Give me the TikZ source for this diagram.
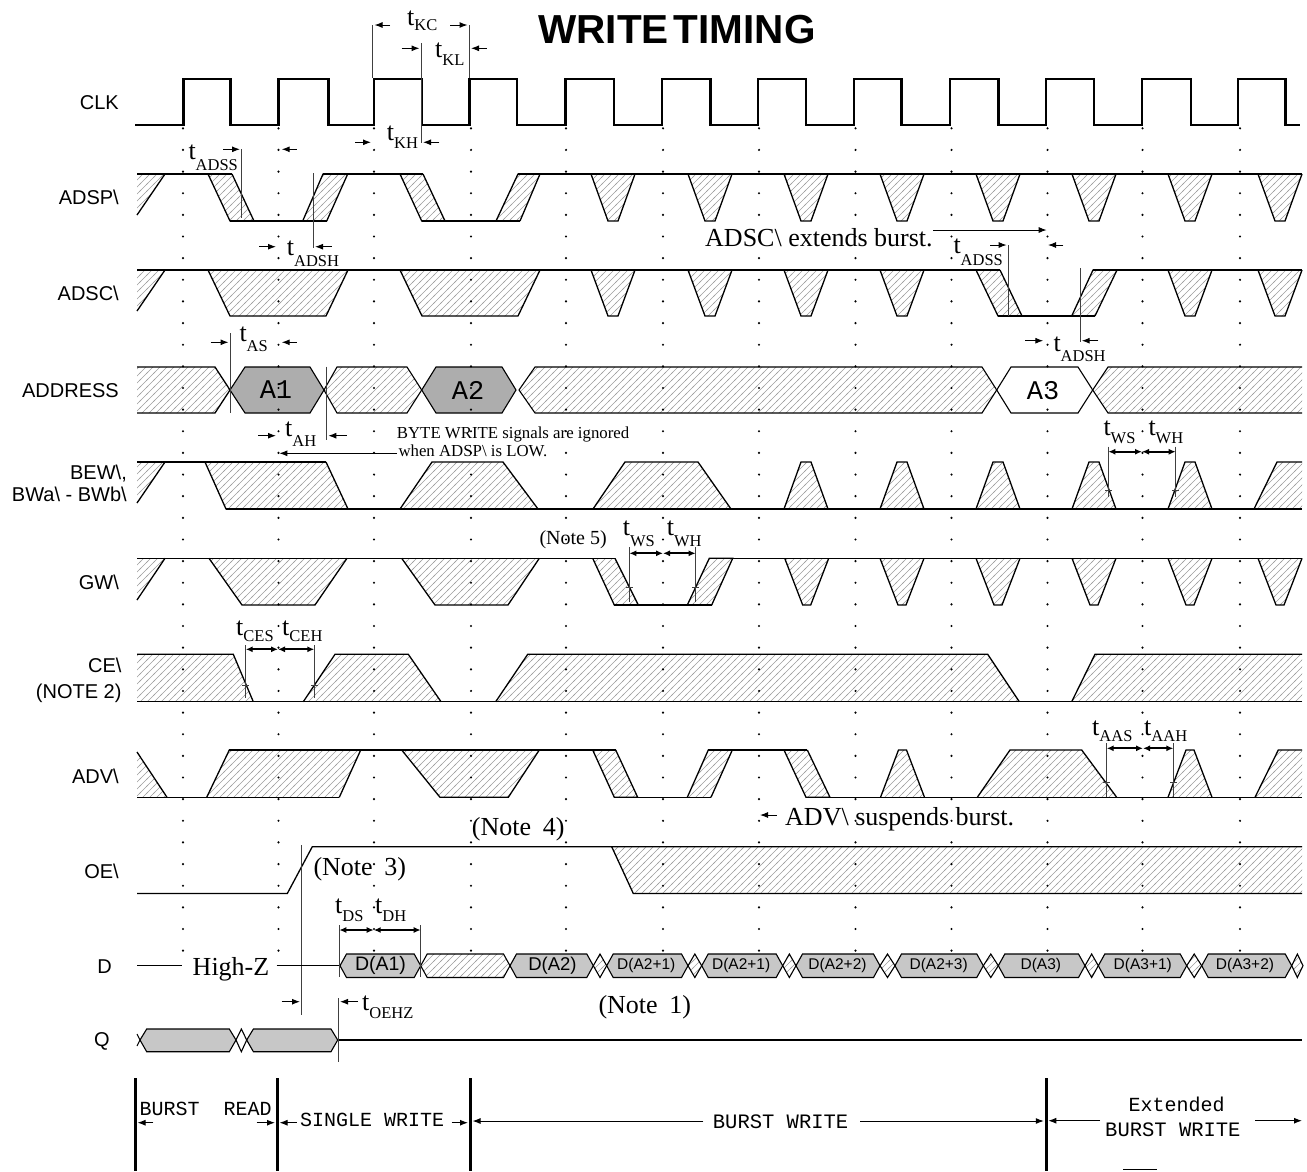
\documentclass[tikz,border=0pt]{standalone}
\usepackage{fontspec}
\setmainfont{Liberation Serif}
\setsansfont{Liberation Sans}
\setmonofont{Liberation Mono}
\usetikzlibrary{patterns,arrows.meta}
\pgfdeclarepatternformonly{hatchp}{\pgfqpoint{-1pt}{-1pt}}{\pgfqpoint{8pt}{8pt}}{\pgfqpoint{7pt}{7pt}}{%
  \pgfsetlinewidth{0.6pt}%
  \pgfpathmoveto{\pgfqpoint{-1pt}{-1pt}}%
  \pgfpathlineto{\pgfqpoint{8pt}{8pt}}%
  \pgfusepath{stroke}}
\newcommand{\tsub}[2][8]{{\fontsize{26}{26}\selectfont t}\raisebox{-#1pt}{\fontsize{16.5}{16.5}\selectfont #2}}
\tikzset{
  sig/.style={line width=1.3pt,line join=miter},
  clk/.style={line width=2.8pt,line join=miter},
  hatch/.style={pattern=hatchp,pattern color=black!38},
  mk/.style={line width=0.9pt,black!75},
  arr/.style={line width=1pt,-{Latex[length=8pt,width=6pt]}},
  darr/.style={line width=1.8pt,{Latex[length=7pt,width=6pt]}-{Latex[length=7pt,width=6pt]}},
  lab/.style={font=\sffamily\fontsize{20}{20}\selectfont,anchor=base east,inner sep=0pt},
  tl/.style={anchor=base west,inner sep=0pt},
  note/.style={font=\fontsize{26}{26}\selectfont,anchor=base west,inner sep=0pt},
  bus/.style={sig,line width=1.1pt,fill=black!32},
  dbus/.style={sig,line width=1.1pt,fill=black!22},
  mono/.style={font=\ttfamily\fontsize{20}{20}\selectfont,anchor=base west,inner sep=0pt},
  thick3/.style={line width=3pt},
}
\begin{document}
\begin{tikzpicture}[x=1pt,y=-1pt]
\useasboundingbox (0,0) rectangle (1307,1171);

% Title
\node[font=\sffamily\bfseries\fontsize{40.5}{40.5}\selectfont,inner sep=0pt] (title) at (677,30) {WRITE\hspace{0.12em}TIMING};

% Signal labels
\node[lab] (lclk) at (119,109.2) {CLK};
\node[lab] (ladsp) at (119,204.7) {ADSP\textbackslash};
\node[lab] (ladsc) at (119,300.2) {ADSC\textbackslash};
\node[lab] (laddr) at (119,397.2) {ADDRESS};
\node[lab] (lbew) at (127,479.2) {BEW\textbackslash,};
\node[lab] (lbwa) at (127,501.2) {BWa\textbackslash{} - BWb\textbackslash};
\node[lab] (lgw) at (119,589.7) {GW\textbackslash};
\node[lab] (lce) at (121.7,672.2) {CE\textbackslash};
\node[lab] (lnote2) at (121.7,698) {(NOTE 2)};
\node[lab] (ladv) at (119,783.2) {ADV\textbackslash};
\node[lab] (loe) at (119,878) {OE\textbackslash};
\node[lab] (ld) at (112,973) {D};
\node[lab] (lq) at (110,1046.5) {Q};

% CLK
\draw[clk] (135,125) -- (183.3,125) |- (230.7,79) |- (278.3,125) |- (328.3,79) |- (374,125) |- (422,79) |- (469.3,125) |- (517,79) |- (565.7,125) |- (614,79) |- (662,125) |- (710.7,79) |- (758,125) |- (806,79) |- (854,125) |- (901.7,79) |- (950,125) |- (998.7,79) |- (1046,125) |- (1094,79) |- (1142,125) |- (1191,79) |- (1238,125) |- (1285.7,79) |- (1300,125);

% ADSP
\fill[hatch] (137,174) -- (165,174) -- (137,215) -- cycle;
\draw[sig] (165,174) -- (137,215);
\draw[sig,hatch] (208,174) -- (230,221) -- (254,221) -- (232,174);
\draw[sig,hatch] (302.7,221) -- (323,174) -- (347.7,174) -- (326.7,221);
\draw[sig,hatch] (400,174) -- (421.7,221) -- (445,221) -- (423,174);
\draw[sig,hatch] (496,221) -- (518,174) -- (540,174) -- (520,221);
\foreach \c in {613,710,806,902,998,1094,1190,1280} {\draw[sig,hatch] (\c-22,174) -- (\c-5,221) -- (\c+5,221) -- (\c+22,174);}
\draw[sig] (137,174) -- (232,174);
\draw[sig] (230,221) -- (326.7,221);
\draw[sig] (323,174) -- (423,174);
\draw[sig] (421.7,221) -- (520,221);
\draw[sig] (518,174) -- (1302,174);

% ADSC
\fill[hatch] (137,270) -- (165,270) -- (137,311) -- cycle;
\draw[sig] (165,270) -- (137,311);
\draw[sig,hatch] (208,270) -- (230,316) -- (326,316) -- (348,270);
\draw[sig,hatch] (400,270) -- (422,316) -- (518,316) -- (540,270);
\foreach \c in {613,710,806,902,1190,1280} {\draw[sig,hatch] (\c-22,270) -- (\c-5,316) -- (\c+5,316) -- (\c+22,270);}
\draw[sig,hatch] (976,270) -- (998,316) -- (1022,316) -- (1000,270);
\draw[sig,hatch] (1071.7,316) -- (1093,270) -- (1117,270) -- (1095,316);
\draw[sig] (137,270) -- (1000,270);
\draw[sig] (998,316) -- (1095,316);
\draw[sig] (1093,270) -- (1302,270);

% ADDRESS
\draw[sig,hatch] (137,367) -- (215,367) -- (230,390) -- (215,413) -- (137,413);
\filldraw[bus] (230,390) -- (245,367) -- (310,367) -- (324,390) -- (310,413) -- (245,413) -- cycle;
\draw[sig,line width=1.1pt,hatch] (324,390) -- (337,367) -- (407,367) -- (421.7,390) -- (407,413) -- (337,413) -- cycle;
\filldraw[bus] (421.7,390) -- (436,367) -- (502,367) -- (516,390) -- (502,413) -- (436,413) -- cycle;
\draw[sig,line width=1.1pt,hatch] (519,390) -- (535,367) -- (982,367) -- (996.7,390) -- (982,413) -- (535,413) -- cycle;
\draw[sig,line width=1.1pt] (996.7,390) -- (1011,367) -- (1078,367) -- (1092.7,390) -- (1078,413) -- (1011,413) -- cycle;
\draw[sig,line width=1.1pt,hatch] (1302,367) -- (1108,367) -- (1092.7,390) -- (1108,413) -- (1302,413);
\node[font=\ttfamily\fontsize{27}{27}\selectfont,inner sep=0pt] (a1) at (276,390) {A1};
\node[font=\ttfamily\fontsize{27}{27}\selectfont,inner sep=0pt] (a2) at (468,390) {A2};
\node[font=\ttfamily\fontsize{27}{27}\selectfont,inner sep=0pt] (a3) at (1043,391) {A3};

% BEW
\fill[hatch] (137,462) -- (165,462) -- (137,503) -- cycle;
\draw[sig] (165,462) -- (137,503);
\draw[sig,hatch] (205,462) -- (226,509) -- (348,509) -- (326,462);
\draw[sig,hatch] (400,509) -- (432,462) -- (503,462) -- (538,509);
\draw[sig,hatch] (593,509) -- (625,462) -- (698,462) -- (731,509);
\foreach \c in {806,902,998,1094,1190} {\draw[sig,hatch] (\c-22,509) -- (\c-5,462) -- (\c+5,462) -- (\c+22,509);}
\fill[hatch] (1254,509) -- (1277,462) -- (1302,462) -- (1302,509) -- cycle;
\draw[sig] (1254,509) -- (1277,462) -- (1302,462);
\draw[sig] (137,462) -- (326,462);
\draw[sig] (226,509) -- (1302,509);

% GW
\fill[hatch] (137,558.3) -- (165,558.3) -- (137,600) -- cycle;
\draw[sig] (165,558.3) -- (137,600);
\draw[sig,hatch] (209,558.3) -- (242,605) -- (315,605) -- (347,558.3);
\draw[sig,hatch] (401.7,558.3) -- (435,605) -- (508,605) -- (539.3,558.3);
\draw[sig,hatch] (592.7,558.3) -- (614.3,605) -- (638.3,605) -- (615,558.3);
\draw[sig,hatch] (687.3,605) -- (709.3,558.3) -- (732.7,558.3) -- (711.7,605);
\foreach \c in {806.7,902,998,1094,1190,1280} {\draw[sig,hatch] (\c-22,558.3) -- (\c-4,605) -- (\c+4,605) -- (\c+22,558.3);}
\draw[sig] (137,558.3) -- (615,558.3);
\draw[sig] (614.3,605) -- (711.7,605);
\draw[sig] (709.3,558.3) -- (1302,558.3);

% CE
\fill[hatch] (137,654.3) -- (233.3,654.3) -- (253.3,701.7) -- (137,701.7) -- cycle;
\fill[hatch] (303.3,701.7) -- (335,654.3) -- (408.3,654.3) -- (441,701.7) -- cycle;
\fill[hatch] (495.7,701.7) -- (527.7,654.3) -- (987.7,654.3) -- (1019.3,701.7) -- cycle;
\fill[hatch] (1071.7,701.7) -- (1095,654.3) -- (1302,654.3) -- (1302,701.7) -- cycle;
\draw[sig] (137,654.3) -- (233.3,654.3) -- (253.3,701.7);
\draw[sig] (303.3,701.7) -- (335,654.3) -- (408.3,654.3) -- (441,701.7);
\draw[sig] (495.7,701.7) -- (527.7,654.3) -- (987.7,654.3) -- (1019.3,701.7);
\draw[sig] (1071.7,701.7) -- (1095,654.3) -- (1302,654.3);
\draw[sig] (137,701.7) -- (1302,701.7);

% ADV
\fill[hatch] (137,752) -- (167,797.3) -- (137,797.3) -- cycle;
\draw[sig] (137,752) -- (167,797.3);
\draw[sig,hatch] (206.7,797.3) -- (229.3,750) -- (360.7,750) -- (339.3,797.3);
\draw[sig,hatch] (401.7,750) -- (440,797.3) -- (508.3,797.3) -- (539.3,750);
\draw[sig,hatch] (592.7,750) -- (614.3,797.3) -- (637.7,797.3) -- (615.7,750);
\draw[sig,hatch] (687.3,797.3) -- (708.3,750) -- (732.3,750) -- (711,797.3);
\draw[sig,hatch] (784,750) -- (806,797.3) -- (830,797.3) -- (807.3,750);
\foreach \c in {902.5,1190} {\draw[sig,hatch] (\c-22,797.3) -- (\c-4,750) -- (\c+4,750) -- (\c+22,797.3);}
\draw[sig,hatch] (977.3,797.3) -- (1010,750) -- (1081.7,750) -- (1116.7,797.3);
\fill[hatch] (1255,797.3) -- (1278.3,750) -- (1302,750) -- (1302,797.3) -- cycle;
\draw[sig] (1255,797.3) -- (1278.3,750) -- (1302,750);
\draw[sig] (137,797.3) -- (339.3,797.3);
\draw[sig] (229.3,750) -- (615.7,750);
\draw[sig] (614.3,797.3) -- (711,797.3);
\draw[sig] (708.3,750) -- (807.3,750);
\draw[sig] (806,797.3) -- (1302,797.3);

% OE
\fill[hatch] (611.7,846.7) -- (1302,846.7) -- (1302,893.5) -- (633.3,893.5) -- cycle;
\draw[sig] (137,893.5) -- (287.3,893.5) -- (312.3,846.7) -- (1302,846.7);
\draw[sig] (611.7,846.7) -- (633.3,893.5) -- (1302,893.5);
\draw[mk] (301.7,845) -- (301.7,1015);

% D
\draw[sig,line width=1pt] (137,965.7) -- (181.7,965.7);
\node[font=\fontsize{26}{26}\selectfont,anchor=base,inner sep=0pt] (hiz) at (231,975) {High-Z};
\draw[sig,line width=1pt] (276.7,965.7) -- (340,965.7);
\foreach \a/\b in {340/420.7,510/593.3,606.7/688,701.7/782.7,796/880,895/983.3,998.3/1085,1098.3/1186.7,1201.7/1291.7}
  {\filldraw[dbus] (\a,965.7) -- (\a+6.5,954) -- (\b-6.5,954) -- (\b,965.7) -- (\b-6.5,977.5) -- (\a+6.5,977.5) -- cycle;}
\draw[sig,line width=1.1pt,hatch] (420.7,965.7) -- (427.2,954) -- (503.5,954) -- (510,965.7) -- (503.5,977.5) -- (427.2,977.5) -- cycle;
\foreach \a/\b in {593.3/606.7,688/701.7,782.7/796,880/895,983.3/998.3,1085/1098.3,1186.7/1201.7,1291.7/1303}
  {\draw[sig,line width=1.1pt,hatch] (\a,965.7) -- ({(\a+\b)/2},954) -- (\b,965.7) -- ({(\a+\b)/2},977.5) -- cycle;}
\node[font=\sffamily\fontsize{19.5}{19.5}\selectfont,inner sep=0pt] (da1) at (380.5,965.7) {D(A1)};
\node[font=\sffamily\fontsize{18.5}{18.5}\selectfont,inner sep=0pt] (da2) at (552.5,965.7) {D(A2)};
\node[font=\sffamily\fontsize{15.5}{15.5}\selectfont,inner sep=0pt] (da21) at (646.3,965.7) {D(A2+1)};
\node[font=\sffamily\fontsize{15.5}{15.5}\selectfont,inner sep=0pt] (da21b) at (741.2,965.7) {D(A2+1)};
\node[font=\sffamily\fontsize{15.5}{15.5}\selectfont,inner sep=0pt] (da22) at (837.5,965.7) {D(A2+2)};
\node[font=\sffamily\fontsize{15.5}{15.5}\selectfont,inner sep=0pt] (da23) at (938.7,965.7) {D(A2+3)};
\node[font=\sffamily\fontsize{15.5}{15.5}\selectfont,inner sep=0pt] (da3) at (1040.8,965.7) {D(A3)};
\node[font=\sffamily\fontsize{15.5}{15.5}\selectfont,inner sep=0pt] (da31) at (1142.8,965.7) {D(A3+1)};
\node[font=\sffamily\fontsize{15.5}{15.5}\selectfont,inner sep=0pt] (da32) at (1245,965.7) {D(A3+2)};

% Q
\draw[sig,line width=1pt] (137,1034) -- (140,1040) -- (137,1046);
\foreach \a/\b in {140/236,246.7/337.7}
  {\filldraw[dbus] (\a,1040) -- (\a+6.7,1029) -- (\b-6.7,1029) -- (\b,1040) -- (\b-6.7,1051.7) -- (\a+6.7,1051.7) -- cycle;}
\draw[sig,line width=1.1pt] (236,1040) -- (241.35,1029) -- (246.7,1040) -- (241.35,1051.7) -- cycle;
\draw[sig,line width=1.1pt] (337.7,1040) -- (1302,1040);
\draw[mk] (338.3,998.3) -- (338.3,1061.7);

% ---------- timing annotations ----------
% tKC, tKL, tKH
\draw[mk] (372.7,25) -- (372.7,78);
\draw[mk] (469.3,25) -- (469.3,78);
\draw[mk] (421,43) -- (421,143);
\draw[arr] (390,25) -- (374.5,25);
\draw[arr] (450,25) -- (467.5,25);
\node[tl] (tkc) at (407,25) {\tsub[5]{KC}};
\draw[arr] (401.7,48.3) -- (419.5,48.3);
\draw[arr] (486.7,48.3) -- (471,48.3);
\node[tl] (tkl) at (435,57) {\tsub[8]{KL}};
\draw[arr] (355,142.3) -- (371,142.3);
\draw[arr] (439.3,142.3) -- (423,142.3);
\node[tl] (tkh) at (386.7,140) {\tsub[8]{KH}};

% tADSS / tADSH (ADSP)
\draw[mk] (241.7,149) -- (241.7,218.3);
\draw[arr] (223.3,149.3) -- (240,149.3);
\draw[arr] (296.7,149.3) -- (281.7,149.3);
\node[tl] (tadss) at (188.3,159) {\tsub[11]{ADSS}};
\draw[mk] (313.3,173) -- (313.3,248.3);
\draw[arr] (259.3,246.7) -- (276,246.7);
\draw[arr] (331.7,246.7) -- (315,246.7);
\node[tl] (tadsh) at (286.7,255) {\tsub[11.5]{ADSH}};

% ADSC extends burst
\node[note] (adscext) at (705,246.7) {ADSC\textbackslash{} extends burst.};
\draw[arr] (933,230) -- (1046.7,230);
\draw[mk] (1008.3,245) -- (1008.3,316);
\draw[arr] (990,245) -- (1006.7,245);
\draw[arr] (1063.3,245) -- (1048,245);
\node[tl] (tadss2) at (953.3,253) {\tsub[12]{ADSS}};
\draw[mk] (1080,268) -- (1080,342);
\draw[arr] (1025,340.7) -- (1043.3,340.7);
\draw[arr] (1098.3,340.7) -- (1081.7,340.7);
\node[tl] (tadsh2) at (1053.3,351.7) {\tsub[10]{ADSH}};

% tAS / tAH
\draw[mk] (230,333.3) -- (230,413.3);
\draw[arr] (210.7,342.3) -- (228.5,342.3);
\draw[arr] (296.7,342.3) -- (281.7,342.3);
\node[tl] (tas) at (239.3,341.7) {\tsub[10]{AS}};
\draw[mk] (326.7,366.7) -- (326.7,440);
\draw[arr] (258.3,435.7) -- (276,435.7);
\draw[arr] (346.7,435.7) -- (328.3,435.7);
\node[tl] (tah) at (285,436.7) {\tsub[10]{AH}};

% BYTE WRITE note
\node[tl,font=\fontsize{16.8}{16.8}\selectfont] (bw1) at (396.7,438.3) {BYTE WRITE signals are ignored};
\node[tl,font=\fontsize{16.8}{16.8}\selectfont] (bw2) at (398.3,456.7) {when ADSP\textbackslash{} is LOW.};
\draw[arr] (397,453.3) -- (279.3,453.3);

% tWS / tWH (BEW)
\draw[mk] (1108.3,446.7) -- (1108.3,496.7);
\draw[mk] (1175.7,446.7) -- (1175.7,496.7);
\draw[mk] (1105,490) -- (1111.6,490);
\draw[mk] (1172.4,490) -- (1179,490);
\draw[darr] (1108.3,451.7) -- (1142,451.7);
\draw[darr] (1142,451.7) -- (1175.7,451.7);
\node[tl] (tws1) at (1103.3,435) {\tsub[8.3]{WS}};
\node[tl] (twh1) at (1148.3,435) {\tsub[8.3]{WH}};

% tWS / tWH (GW)
\draw[mk] (629.3,547) -- (629.3,601.7);
\draw[mk] (695.7,547) -- (695.7,601.7);
\draw[mk] (626,587.7) -- (632.6,587.7);
\draw[mk] (692.4,587.7) -- (699,587.7);
\draw[darr] (629.3,553.3) -- (663,553.3);
\draw[darr] (663,553.3) -- (695.7,553.3);
\node[tl] (tws2) at (622.7,535) {\tsub[11.5]{WS}};
\node[tl] (twh2) at (666.7,535) {\tsub[11.5]{WH}};
\node[tl,font=\fontsize{20}{20}\selectfont] (note5) at (539.3,544) {(Note 5)};

% tCES / tCEH
\draw[mk] (245.7,645) -- (245.7,698.3);
\draw[mk] (314.3,645) -- (314.3,698.3);
\draw[mk] (242.4,685) -- (249,685);
\draw[mk] (311,685) -- (317.6,685);
\draw[darr] (245.7,649.3) -- (278,649.3);
\draw[darr] (278,649.3) -- (314.3,649.3);
\node[tl] (tces) at (236,635) {\tsub[6.7]{CES}};
\node[tl] (tceh) at (282,635) {\tsub[6.7]{CEH}};

% tAAS / tAAH
\draw[mk] (1106.7,743.3) -- (1106.7,797.3);
\draw[mk] (1173.3,743.3) -- (1173.3,797.3);
\draw[mk] (1103.4,782.3) -- (1110,782.3);
\draw[mk] (1170,782.3) -- (1176.6,782.3);
\draw[darr] (1106.7,748.3) -- (1143,748.3);
\draw[darr] (1143,748.3) -- (1173.3,748.3);
\node[tl] (taas) at (1092,735) {\tsub[6.7]{AAS}};
\node[tl] (taah) at (1144,735) {\tsub[6.7]{AAH}};

% ADV suspends burst
\draw[arr] (776.7,815) -- (760,815);
\node[note] (advsus) at (785,825) {ADV\textbackslash{} suspends burst.};

% Notes
\node[note] (note4) at (471.7,835) {(Note\hspace{0.45em}4)};
\node[note] (note3) at (313.3,875) {(Note\hspace{0.45em}3)};
\node[note] (note1) at (598.3,1013.5) {(Note\hspace{0.45em}1)};

% tDS / tDH
\draw[mk] (339.3,925) -- (339.3,976.7);
\draw[mk] (420.7,925) -- (420.7,976.7);
\draw[darr] (339.3,930) -- (373.7,930);
\draw[darr] (373.7,930) -- (420.7,930);
\node[tl] (tds) at (335,913.3) {\tsub[8.4]{DS}};
\node[tl] (tdh) at (375,913.3) {\tsub[8.4]{DH}};

% tOEHZ
\draw[arr] (281.7,1001.7) -- (300,1001.7);
\draw[arr] (358,1001.7) -- (340,1001.7);
\node[tl] (toehz) at (362,1010) {\tsub[8.3]{OEHZ}};

% ---------- bottom phase bar ----------
\draw[thick3] (135,1078.3) -- (135,1171);
\draw[thick3] (277.3,1078.3) -- (277.3,1171);
\draw[thick3] (470,1078.3) -- (470,1171);
\draw[thick3] (1046,1078.3) -- (1046,1171);
\node[mono] (br) at (139.3,1115) {BURST\ \ READ};
\draw[arr] (153.3,1122.7) -- (137.5,1122.7);
\draw[arr] (256.7,1122.7) -- (275,1122.7);
\draw[arr] (296.7,1122.7) -- (279.5,1122.7);
\node[mono] (sw) at (300,1126.7) {SINGLE WRITE};
\draw[arr] (451.7,1122.7) -- (468,1122.7);
\draw[arr] (703.3,1121) -- (472.5,1121);
\node[mono,font=\ttfamily\fontsize{20.5}{20.5}\selectfont] (bwr) at (712.7,1128.3) {BURST WRITE};
\draw[arr] (860,1121) -- (1043.8,1121);
\draw[arr] (1100,1120.7) -- (1048.3,1120.7);
\node[mono,anchor=base] (ext) at (1176.7,1111) {Extended};
\node[mono,font=\ttfamily\fontsize{20.5}{20.5}\selectfont] (ebw) at (1105,1136.7) {BURST WRITE};
\draw[arr] (1255,1120.7) -- (1302,1120.7);
\draw[line width=1.5pt] (1123.3,1169.5) -- (1156.7,1169.5);

% ---------- dotted clock reference lines ----------
\foreach \x in {183,278.5,374,471,566,663,759,855.5,951.5,1047.5,1142.5,1240} {
  \foreach \n in {0,...,38} { \fill (\x,128.3+21.64*\n) circle (1.2); }
}
\end{tikzpicture}
\end{document}
